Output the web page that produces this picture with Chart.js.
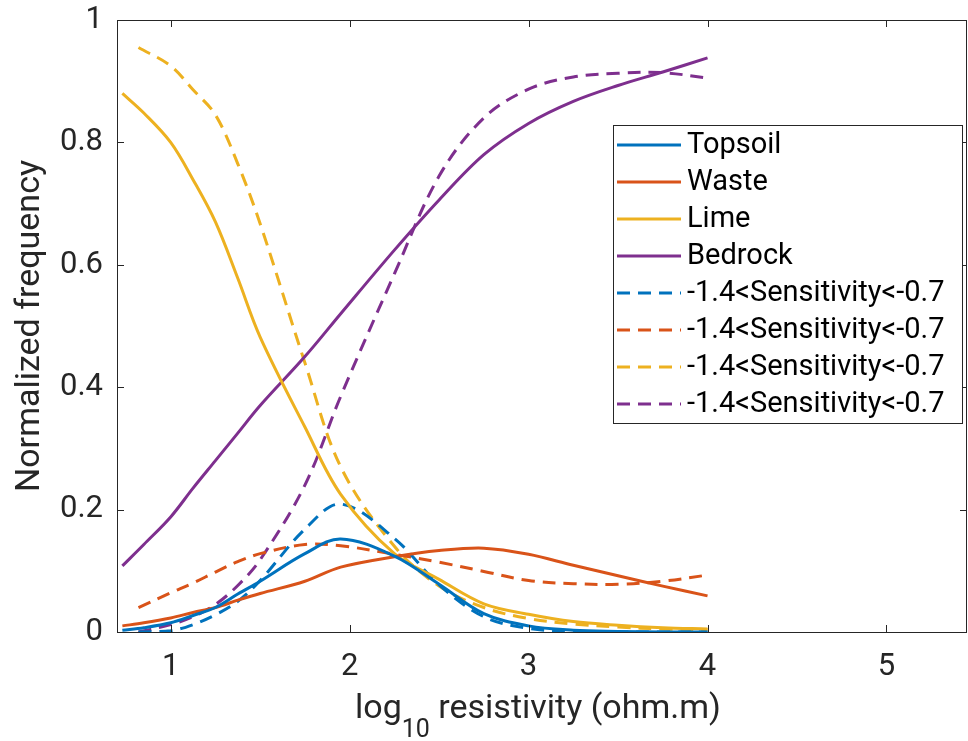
<!DOCTYPE html>
<html>
<head>
<meta charset="utf-8">
<script src="https://cdn.jsdelivr.net/npm/chart.js@4"></script>
<style>
  body { margin: 0; background: #fff; }
  #wrap { width: 968px; height: 741px; position: relative; }
</style>
</head>
<body>
<div id="wrap"><canvas id="chart"></canvas></div>
<script>
// x positions (log10 resistivity) for solid and dashed curves
const xSolid  = [0.73, 0.85, 1.0, 1.125, 1.25, 1.375, 1.5, 1.75, 1.95, 2.25, 2.5, 2.75, 3.0, 3.25, 3.5, 3.75, 4.0];
const xDashed = [0.82, 1.0, 1.125, 1.25, 1.375, 1.5, 1.75, 1.95, 2.25, 2.5, 2.75, 3.0, 3.25, 3.5, 3.75, 4.0];

// all data
const topsoil = [0.003, 0.007, 0.015, 0.027, 0.040, 0.062, 0.083, 0.128, 0.152, 0.124, 0.078, 0.030, 0.010, 0.003, 0.001, 0.000, 0.000];
const waste   = [0.010, 0.015, 0.023, 0.032, 0.040, 0.052, 0.063, 0.083, 0.106, 0.123, 0.133, 0.137, 0.127, 0.109, 0.092, 0.075, 0.059];
const lime    = [0.880, 0.848, 0.800, 0.739, 0.670, 0.578, 0.482, 0.335, 0.225, 0.128, 0.086, 0.046, 0.029, 0.017, 0.011, 0.007, 0.005];
const bedrock = [0.108, 0.143, 0.188, 0.235, 0.280, 0.325, 0.370, 0.450, 0.520, 0.624, 0.706, 0.780, 0.831, 0.867, 0.893, 0.915, 0.938];

// -1.4 < sensitivity < -0.7
const topsoilSens = [0.000, 0.002, 0.012, 0.028, 0.050, 0.084, 0.168, 0.209, 0.153, 0.077, 0.025, 0.006, 0.001, 0.000, 0.000, 0.000];
const wasteSens   = [0.040, 0.064, 0.080, 0.098, 0.115, 0.128, 0.143, 0.141, 0.127, 0.114, 0.099, 0.084, 0.079, 0.078, 0.083, 0.093];
const limeSens    = [0.955, 0.925, 0.886, 0.845, 0.765, 0.667, 0.440, 0.270, 0.140, 0.075, 0.040, 0.022, 0.013, 0.008, 0.005, 0.004];
const bedrockSens = [0.000, 0.012, 0.025, 0.045, 0.076, 0.118, 0.240, 0.385, 0.585, 0.745, 0.840, 0.887, 0.907, 0.913, 0.914, 0.905];

const labels = ['Topsoil', 'Waste', 'Lime', 'Bedrock'];
const sensLabel = '-1.4<Sensitivity<-0.7';
const colors = ['#0072BD', '#D95319', '#EDB120', '#7E2F8E'];

const xTicks = [1, 2, 3, 4, 5];
const yTicks = [0, 0.2, 0.4, 0.6, 0.8, 1];

const FONT = 'Roboto, "DejaVu Sans", sans-serif';
const AXIS = '#262626';

function toPoints(xs, ys) {
  return ys.map((y, i) => ({ x: xs[i], y: y }));
}

const solidSets = [topsoil, waste, lime, bedrock].map((ys, i) => ({
  label: labels[i],
  data: toPoints(xSolid, ys),
  borderColor: colors[i],
  borderWidth: 3,
  borderDash: []
}));
const dashedSets = [topsoilSens, wasteSens, limeSens, bedrockSens].map((ys, i) => ({
  label: sensLabel,
  data: toPoints(xDashed, ys),
  borderColor: colors[i],
  borderWidth: 3,
  borderDash: [13, 8]
}));

// box, inward ticks, axis titles and legend (matlab look)
const matlabLook = {
  id: 'matlabLook',
  afterDraw(chart) {
    const ctx = chart.ctx;
    const a = chart.chartArea;
    const xs = chart.scales.x, ys = chart.scales.y;
    ctx.save();
    ctx.strokeStyle = AXIS;
    ctx.lineWidth = 1;
    ctx.strokeRect(a.left + 0.5, a.top + 0.5, a.right - a.left - 1, a.bottom - a.top);
    ctx.beginPath();
    xTicks.forEach(v => {
      const px = Math.round(xs.getPixelForValue(v)) + 0.5;
      ctx.moveTo(px, a.bottom); ctx.lineTo(px, a.bottom - 7);
      ctx.moveTo(px, a.top); ctx.lineTo(px, a.top + 7);
    });
    yTicks.forEach(v => {
      const py = Math.round(ys.getPixelForValue(v)) + 0.5;
      ctx.moveTo(a.left, py); ctx.lineTo(a.left + 7, py);
      ctx.moveTo(a.right, py); ctx.lineTo(a.right - 7, py);
    });
    ctx.stroke();

    // y title
    ctx.fillStyle = AXIS;
    ctx.font = '34px ' + FONT;
    ctx.textAlign = 'center';
    ctx.textBaseline = 'middle';
    ctx.save();
    ctx.translate(30, (a.top + a.bottom) / 2);
    ctx.rotate(-Math.PI / 2);
    ctx.fillText('Normalized frequency', 0, 0);
    ctx.restore();

    // x title with subscript
    ctx.textAlign = 'left';
    ctx.textBaseline = 'alphabetic';
    const big = '34px ' + FONT, small = '25px ' + FONT;
    ctx.font = big; const w1 = ctx.measureText('log').width;
    ctx.font = small; const w2 = ctx.measureText('10').width;
    const x0 = 355;
    ctx.font = big; ctx.fillText('log', x0, 718);
    ctx.font = small; ctx.fillText('10', x0 + w1, 737);
    ctx.font = big; ctx.fillText(' resistivity (ohm.m)', x0 + w1 + w2, 718);

    // legend
    const lx = 613, ly = 125, lw = 349, lh = 298, row = 37;
    ctx.fillStyle = '#fff';
    ctx.fillRect(lx, ly, lw, lh);
    ctx.strokeStyle = AXIS;
    ctx.strokeRect(lx + 0.5, ly + 0.5, lw, lh);
    ctx.font = '29px ' + FONT;
    ctx.textBaseline = 'middle';
    chart.data.datasets.forEach((ds, i) => {
      const cy = ly + 20 + i * row;
      ctx.strokeStyle = ds.borderColor;
      ctx.lineWidth = 3;
      ctx.setLineDash(ds.borderDash);
      ctx.beginPath();
      ctx.moveTo(617, cy); ctx.lineTo(681, cy);
      ctx.stroke();
      ctx.setLineDash([]);
      ctx.fillStyle = '#000';
      ctx.fillText(ds.label, 687, cy + 1);
    });
    ctx.restore();
  }
};

new Chart(document.getElementById('chart'), {
  type: 'line',
  data: { datasets: solidSets.concat(dashedSets) },
  options: {
    responsive: true,
    maintainAspectRatio: false,
    animation: false,
    layout: { padding: { top: 20, right: 1, left: 0, bottom: 0 } },
    elements: {
      point: { radius: 0 },
      line: { tension: 0.35, fill: false }
    },
    plugins: {
      legend: { display: false },
      tooltip: { enabled: false }
    },
    scales: {
      x: {
        type: 'linear',
        min: 0.7,
        max: 5.45,
        afterBuildTicks: s => { s.ticks = xTicks.map(v => ({ value: v })); },
        afterFit: s => { s.height = 109; s.paddingLeft = 0; s.paddingRight = 0; },
        grid: { display: false, drawTicks: false },
        border: { display: false },
        ticks: { color: AXIS, font: { family: FONT, size: 31 }, padding: 17, maxRotation: 0 }
      },
      y: {
        type: 'linear',
        min: 0,
        max: 1,
        afterBuildTicks: s => { s.ticks = yTicks.map(v => ({ value: v })); },
        afterFit: s => { s.width = 117; s.paddingTop = 0; s.paddingBottom = 0; },
        grid: { display: false, drawTicks: false },
        border: { display: false },
        ticks: { color: AXIS, font: { family: FONT, size: 31 }, padding: 14, callback: v => String(v) }
      }
    }
  },
  plugins: [matlabLook]
});
</script>
</body>
</html>
